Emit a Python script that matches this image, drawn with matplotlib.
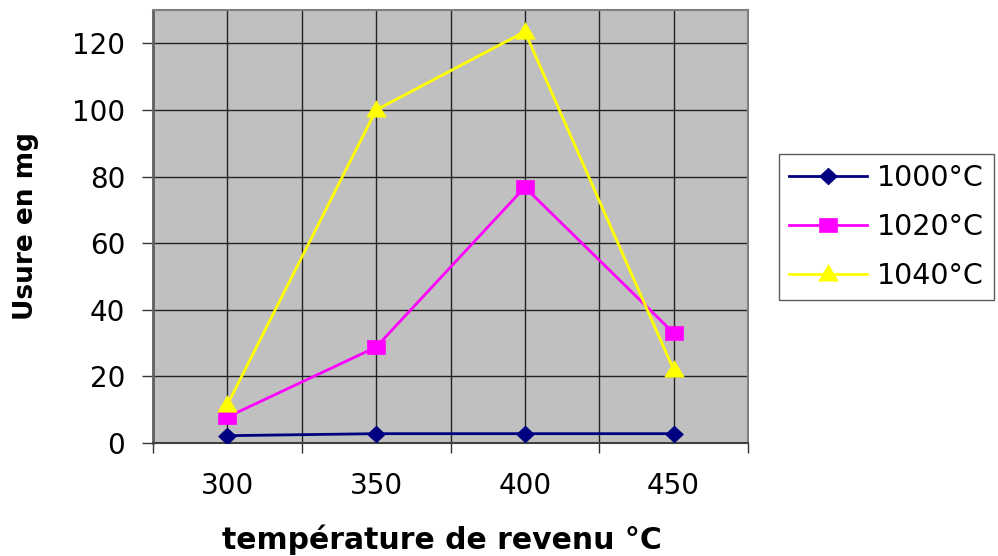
import matplotlib
matplotlib.use("Agg")
import matplotlib.pyplot as plt
import numpy as np

plt.rcParams['font.family'] = ['DejaVu Sans']

categories = ["300", "350", "400", "450"]
series_names = ["1000°C", "1020°C", "1040°C"]
usure_1000 = [2.2, 2.8, 2.8, 2.8]
usure_1020 = [7.8, 28.8, 76.8, 33]
usure_1040 = [11.5, 100, 123.5, 22]
y_ticks = [0, 20, 40, 60, 80, 100, 120]

colors = ["#000080", "#FF00FF", "#FFFF00"]

# slightly wide marker shapes (width, height)
diamond = [(0, 8), (8.5, 0), (0, -8), (-8.5, 0), (0, 8)]
square = [(-8.5, -6.5), (8.5, -6.5), (8.5, 6.5), (-8.5, 6.5), (-8.5, -6.5)]
triangle = [(0, 9.5), (9.5, -6.5), (-9.5, -6.5), (0, 9.5)]
markers = [diamond, square, triangle]
msizes = [12.8, 12.8, 14]

fig = plt.figure(figsize=(9.98, 5.56), dpi=100)
ax = fig.add_axes([153 / 998, 1 - 443 / 556, (748 - 153) / 998, (443 - 10) / 556])
ax.set_facecolor("#C0C0C0")

x = np.arange(len(categories)) + 0.5
for vals, name, c, m, ms in zip([usure_1000, usure_1020, usure_1040],
                                series_names, colors, markers, msizes):
    ax.plot(x, vals, color=c, lw=2, marker=m, markersize=ms,
            markerfacecolor=c, markeredgecolor=c, markeredgewidth=0.5,
            label=name, zorder=3)

ax.set_xlim(0, len(categories))
ax.set_ylim(0, 130)

# boundaries carry tick marks, centres carry labels
ax.set_xticks(np.arange(len(categories) + 1))
ax.set_xticklabels([])
ax.set_xticks(x, minor=True)
ax.set_xticklabels(categories, minor=True)
ax.tick_params(axis="x", which="major", direction="out", length=7, width=1, color="#333333")
ax.tick_params(axis="x", which="minor", length=0, pad=21, labelsize=20)

ax.set_yticks(y_ticks)
ax.tick_params(axis="y", direction="out", length=8, width=1, pad=12, labelsize=20, color="#333333")

ax.grid(True, which="major", axis="both", color="#222222", lw=1)
ax.grid(True, which="minor", axis="x", color="#222222", lw=1)
ax.set_axisbelow(True)

for side in ["top", "right"]:
    ax.spines[side].set_color("#808080")
    ax.spines[side].set_linewidth(1.5)
ax.spines["left"].set_color("#606060")
ax.spines["left"].set_linewidth(2)
ax.spines["bottom"].set_color("#404040")
ax.spines["bottom"].set_linewidth(1.5)

ax.set_xlabel("température de revenu °C", fontsize=21.5, fontweight="bold")
ax.xaxis.set_label_coords(0.485, -0.188)
ax.set_ylabel("Usure en mg", fontsize=19, fontweight="bold", labelpad=24)

leg = ax.legend(loc="upper left", bbox_to_anchor=(779 / 998, 1 - 154 / 556),
                bbox_transform=fig.transFigure, fontsize=20.5, frameon=True,
                fancybox=False, edgecolor="#333333", handlelength=2.75,
                borderpad=0.35, labelspacing=0.73, handletextpad=0.35,
                borderaxespad=0)
leg.get_frame().set_linewidth(1)

fig.savefig("out.png", dpi=100, facecolor="white")
